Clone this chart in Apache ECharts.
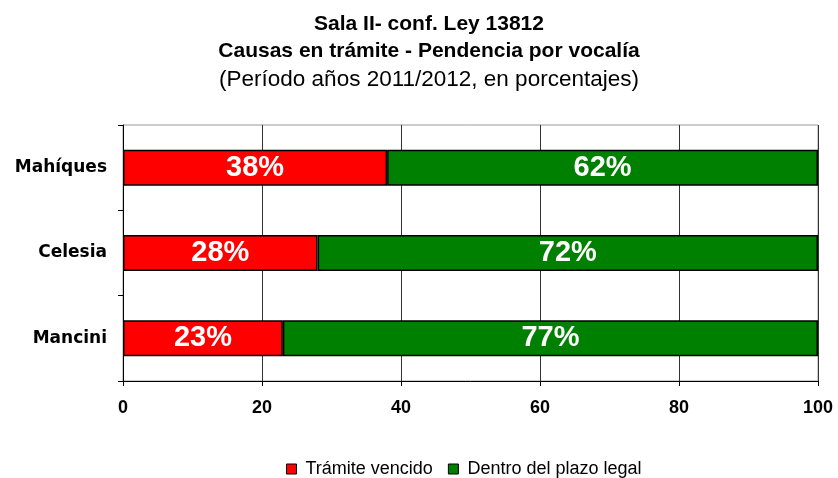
<!DOCTYPE html>
<html><head><meta charset="utf-8">
<script src="https://cdn.jsdelivr.net/npm/echarts@6/dist/echarts.min.js"></script>
<style>html,body{margin:0;padding:0;background:#fff}#c{width:838px;height:478px}</style>
</head><body><div id="c"></div>
<script>
const categories = ['Mancini', 'Celesia', 'Mahíques'];
const vencido = [23, 28, 38];
const dentro = [77, 72, 62];
const seriesNames = ['Trámite vencido', 'Dentro del plazo legal'];
const xTicks = [0, 20, 40, 60, 80, 100];

const chart = echarts.init(document.getElementById('c'));
const font = 'Liberation Sans, Arial, sans-serif';
const label = {
  show: true, position: 'inside', color: '#fff', fontFamily: font,
  fontWeight: 'bold', fontSize: 29, formatter: p => p.value + '%'
};
chart.setOption({
  animation: false,
  title: [
    { text: 'Sala II- conf. Ley 13812', left: 424, textAlign: 'center', top: 9,
      textStyle: { fontFamily: font, fontSize: 21, fontWeight: 'bold', color: '#000' } },
    { text: 'Causas en trámite - Pendencia por vocalía', left: 424, textAlign: 'center', top: 36,
      textStyle: { fontFamily: font, fontSize: 21, fontWeight: 'bold', color: '#000' } },
    { text: '(Período años 2011/2012, en porcentajes)', left: 424, textAlign: 'center', top: 63,
      textStyle: { fontFamily: font, fontSize: 22.5, fontWeight: 'normal', color: '#000' } }
  ],
  legend: {
    top: 460, left: 286, itemWidth: 10, itemHeight: 10, itemGap: 15,
    icon: 'rect', padding: 0,
    textStyle: { fontFamily: font, fontSize: 18, color: '#000', padding: [0, 0, 0, 4] },
    itemStyle: { borderColor: '#000', borderWidth: 1 },
    data: seriesNames
  },
  grid: { left: 123, right: 20, top: 125, bottom: 97, show: true, borderColor: '#999', borderWidth: 1 },
  xAxis: {
    type: 'value', min: 0, max: 100, interval: 20,
    axisLine: { show: true, lineStyle: { color: '#000', width: 1 } },
    axisTick: { show: true, length: 5, lineStyle: { color: '#000' } },
    splitLine: { show: true, lineStyle: { color: '#333', width: 1 } },
    axisLabel: { fontFamily: font, fontSize: 18, fontWeight: 'bold', color: '#000', margin: 18,
      formatter: v => xTicks.includes(v) ? String(v) : '' }
  },
  yAxis: {
    type: 'category', data: categories,
    axisLine: { show: true, lineStyle: { color: '#000', width: 1 } },
    axisTick: { show: true, length: 5, lineStyle: { color: '#000' } },
    axisLabel: { fontFamily: 'DejaVu Sans, sans-serif', fontSize: 17, fontWeight: 'bold', color: '#000', margin: 16 }
  },
  series: [
    { name: seriesNames[0], type: 'bar', stack: 't', data: vencido, barWidth: 36,
      itemStyle: { color: '#ff0000', borderColor: '#000', borderWidth: 1.5 }, label },
    { name: seriesNames[1], type: 'bar', stack: 't', data: dentro, barWidth: 36,
      itemStyle: { color: '#008000', borderColor: '#000', borderWidth: 1.5 }, label }
  ]
});
</script></body></html>
